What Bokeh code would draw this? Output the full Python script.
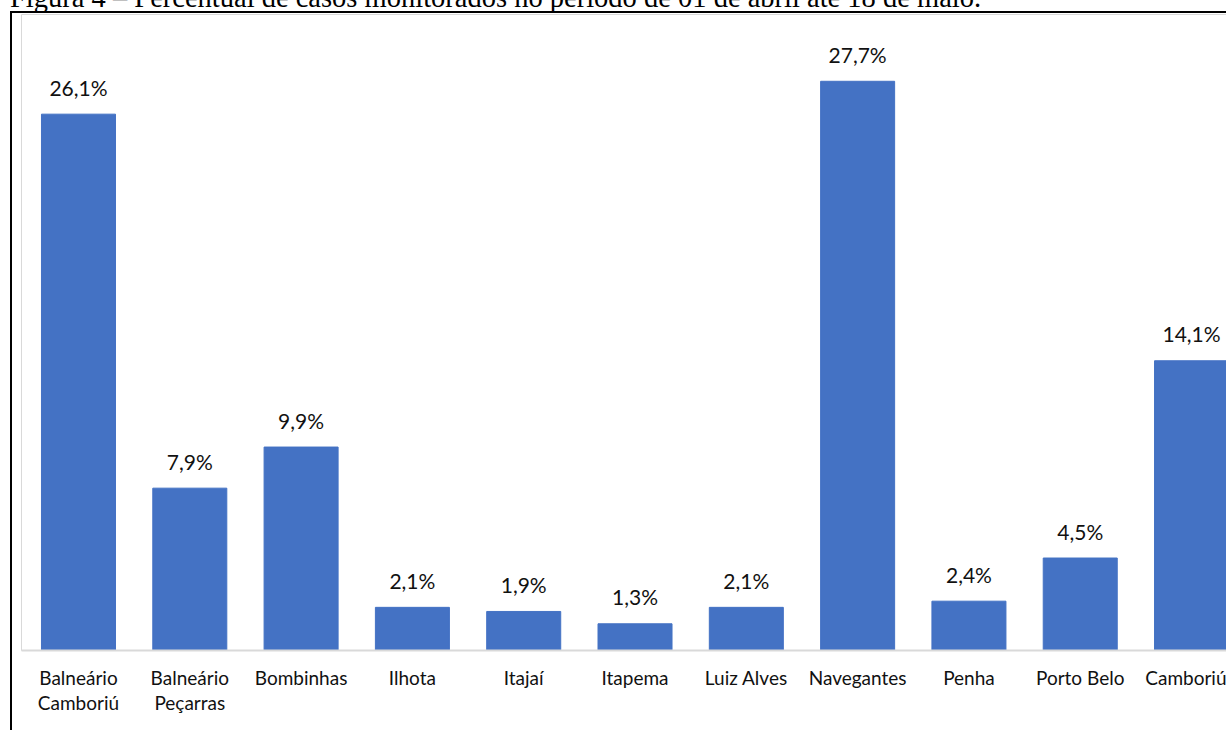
from bokeh.plotting import figure
from bokeh.models import Range1d, ColumnDataSource, Div, FixedTicker
from bokeh.layouts import column
from bokeh.core.properties import value
from bokeh.embed import file_html
from bokeh.resources import INLINE

title_text = "Figura 4 – Percentual de casos monitorados no período de 01 de abril até 18 de maio."
categories = ["Balneário\nCamboriú", "Balneário\nPeçarras", "Bombinhas", "Ilhota", "Itajaí",
              "Itapema", "Luiz Alves", "Navegantes", "Penha", "Porto Belo", "Camboriú"]
percent = [26.1, 7.9, 9.9, 2.1, 1.9, 1.3, 2.1, 27.7, 2.4, 4.5, 14.1]
pct_labels = [f"{v:.1f}%".replace(".", ",") for v in percent]

xs = list(range(len(categories)))
src = ColumnDataSource(dict(x=xs, pct=percent, lbl=pct_labels))

p = figure(width=1216, height=719, output_backend="svg", toolbar_location=None,
           x_range=Range1d(-0.512, 10.332), y_range=Range1d(0, 30.95),
           min_border_left=9, min_border_right=0, min_border_top=1, min_border_bottom=82)
p.margin = (0, 0, 0, 10)
p.styles = {"border-left": "2px solid black", "border-top": "2px solid black"}

p.vbar(x="x", top="pct", width=0.665, source=src, fill_color="#4472C4", line_color="#4472C4")
p.text(x="x", y="pct", text="lbl", source=src, text_align="center", text_baseline="alphabetic",
       y_offset=-27, text_font=value("Lato"), text_font_size="21px", text_color="#111111")

p.xgrid.visible = False
p.ygrid.visible = False
p.yaxis.visible = False
p.outline_line_color = "#d9d9d9"
p.outline_line_width = 1

ax = p.xaxis[0]
ax.ticker = FixedTicker(ticks=xs)
ax.major_label_overrides = {i: c for i, c in zip(xs, categories)}
ax.major_tick_out = 0
ax.major_tick_in = 0
ax.minor_tick_out = 0
ax.minor_tick_in = 0
ax.axis_line_color = "#d9d9d9"
ax.axis_line_width = 2
ax.major_label_standoff = 15
ax.major_label_text_font = "Lato"
ax.major_label_text_font_size = "19px"
ax.major_label_text_color = "#111111"
ax.major_label_text_line_height = 1.1

title = Div(text=title_text, width=1210, height=32, margin=(-18, 0, -3, 10),
            styles={"font-family": "Liberation Serif", "font-size": "28.5px", "line-height": "32px",
                    "white-space": "nowrap", "color": "black"})

layout = column(title, p, spacing=0)
open("out.html", "w").write(file_html(layout, INLINE))
